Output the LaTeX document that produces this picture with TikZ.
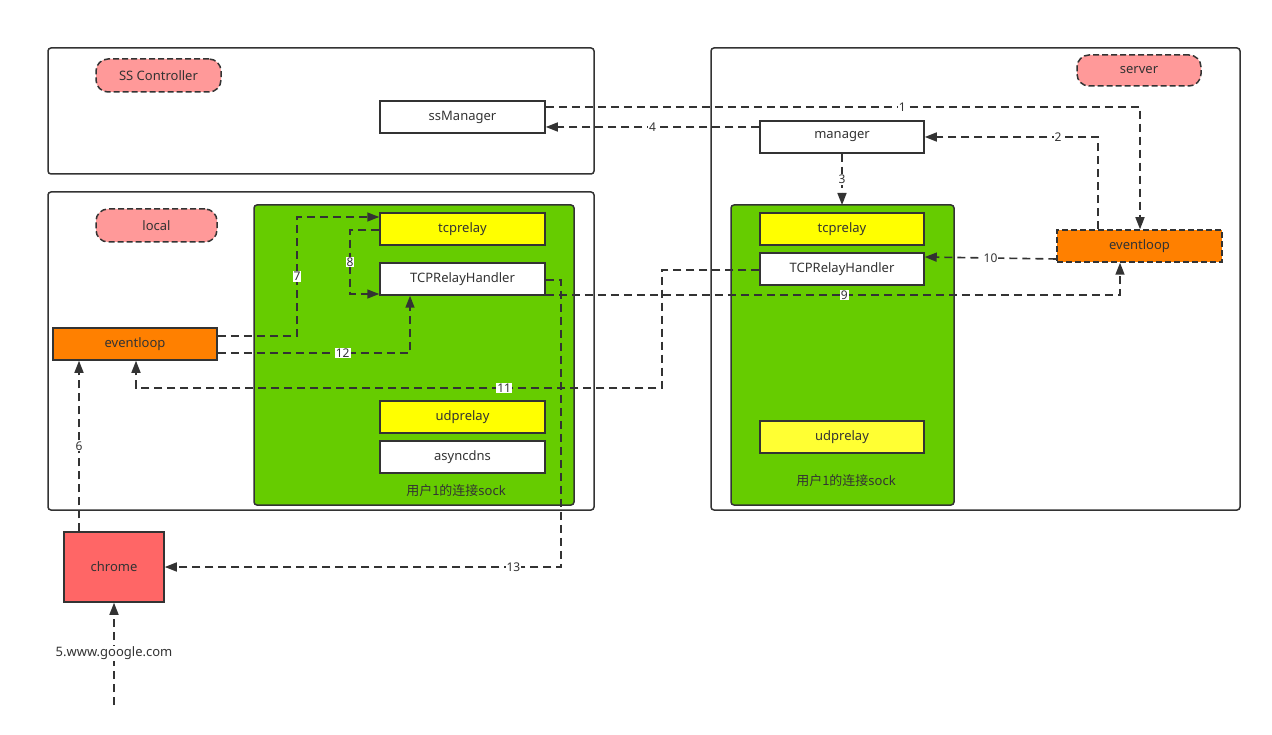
\documentclass[tikz,border=0pt]{standalone}
\usepackage{fontspec}
\setmainfont{Noto Sans}
\newfontfamily\cjk{Noto Sans CJK SC}
\usetikzlibrary{arrows.meta}
\definecolor{ln}{HTML}{333333}
\definecolor{pinkt}{HTML}{FF9999}
\definecolor{grn}{HTML}{66CC00}
\definecolor{yel}{HTML}{FFFF00}
\definecolor{yel2}{HTML}{FFFF33}
\definecolor{org}{HTML}{FF8000}
\definecolor{chr}{HTML}{FF6666}
\begin{document}
\begin{tikzpicture}[x=1pt,y=-1pt,
  every node/.style={font=\fontsize{13}{15}\selectfont, text=ln},
  frame/.style={draw=ln,line width=1.5pt,rounded corners=3pt},
  tag/.style={draw=ln,line width=1.5pt,dashed,dash pattern=on 6pt off 3pt,fill=pinkt,rounded corners=12pt,minimum height=33pt},
  box/.style={draw=ln,line width=1.5pt,fill=white,minimum width=165pt,minimum height=32pt,inner sep=0pt},
  arr/.style={draw=ln,line width=1.6pt,dash pattern=on 8pt off 5pt,-{Triangle[length=12pt,width=9pt]}},
  lab/.style={fill=white,inner sep=1pt,font=\fontsize{12}{14}\selectfont}]
\useasboundingbox (0,0) rectangle (1272,735);
\fill[white] (0,0) rectangle (1272,735);
% frames
\draw[frame] (48,48) rectangle (594,174);
\draw[frame] (48,192) rectangle (594,510);
\draw[frame] (711,48) rectangle (1240,510);
\node[tag,minimum width=125pt] (t1) at (158.5,75.5) {SS Controller};
\node[tag,minimum width=121pt] (t2) at (156.5,225.5) {local};
\node[tag,minimum width=124pt,minimum height=31pt] (t3) at (1139,70.5) {server};
% green containers
\draw[draw=ln,line width=1.5pt,fill=grn,rounded corners=3pt] (254,205) rectangle (574,505);
\draw[draw=ln,line width=1.5pt,fill=grn,rounded corners=3pt] (731,205) rectangle (954,505);
\node (g1) at (456,491) {{\cjk 用户1的连接}sock};
\node (g2) at (846,481) {{\cjk 用户1的连接}sock};
% boxes
\node[box] (ssm) at (462.5,117) {ssManager};
\node[box,fill=yel] (tcpL) at (462.5,229) {tcprelay};
\node[box] (hL) at (462.5,279) {TCPRelayHandler};
\node[box,fill=yel] (udpL) at (462.5,417) {udprelay};
\node[box] (dns) at (462.5,457) {asyncdns};
\node[box,fill=org,minimum width=164pt] (evL) at (135,344) {eventloop};
\node[box,minimum width=164pt] (mgr) at (842,137) {manager};
\node[box,fill=yel,minimum width=164pt] (tcpR) at (842,229) {tcprelay};
\node[box,minimum width=164pt] (hR) at (842,269) {TCPRelayHandler};
\node[box,fill=yel2,minimum width=164pt] (udpR) at (842,437) {udprelay};
\node[box,fill=org,dashed,dash pattern=on 6pt off 3pt] (evR) at (1139.5,246) {eventloop};
\node[box,fill=chr,minimum width=100pt,minimum height=70pt] (chrome) at (114,567) {chrome};
\coordinate (src) at (114,705);
% arrows
\draw[arr] (ssm.east |- 0,107) -- (1140,107) node[lab,pos=0.6] {1} -- (evR.north -| 1140,0);
\draw[arr] (evR.north -| 1098,0) -- (1098,137) -- node[lab,pos=0.23] {2} (mgr.east);
\draw[arr] (mgr.south) -- node[lab] {3} (mgr.south |- 0,205);
\draw[arr] (mgr.west |- 0,127) -- node[lab,pos=0.5] {4} (ssm.east |- 0,127);
\draw[arr] (src) -- (chrome.south);
\node[fill=white,inner sep=1pt] (l5) at (114,653) {5.www.google.com};
\draw[arr] (chrome.north -| 79,0) -- node[lab] {6} (evL.south -| 79,0);
\draw[arr] (evL.east |- 0,336) -- (297,336) -- node[lab] {7} (297,217) -- (tcpL.west |- 0,217);
\draw[arr] (tcpL.west |- 0,230) -- (350,230) -- node[lab] {8} (350,294) -- (hL.west |- 0,294);
\draw[arr] (hL.east |- 0,295) -- node[lab,pos=0.52] {9} (1120,295) -- (evR.south -| 1120,0);
\draw[arr] (evR.west |- 0,259) -- node[lab] {10} (hR.east |- 0,257);
\draw[arr] (hR.west |- 0,270) -- (662,270) -- (662,388) -- node[lab,pos=0.3] {11} (136,388) -- (evL.south -| 136,0);
\draw[arr] (evL.east |- 0,353) -- node[lab,pos=0.65] {12} (410,353) -- (hL.south -| 410,0);
\draw[arr] (hL.east |- 0,280) -- (561,280) -- (561,567) -- node[lab,pos=0.12] {13} (chrome.east);
\end{tikzpicture}
\end{document}
